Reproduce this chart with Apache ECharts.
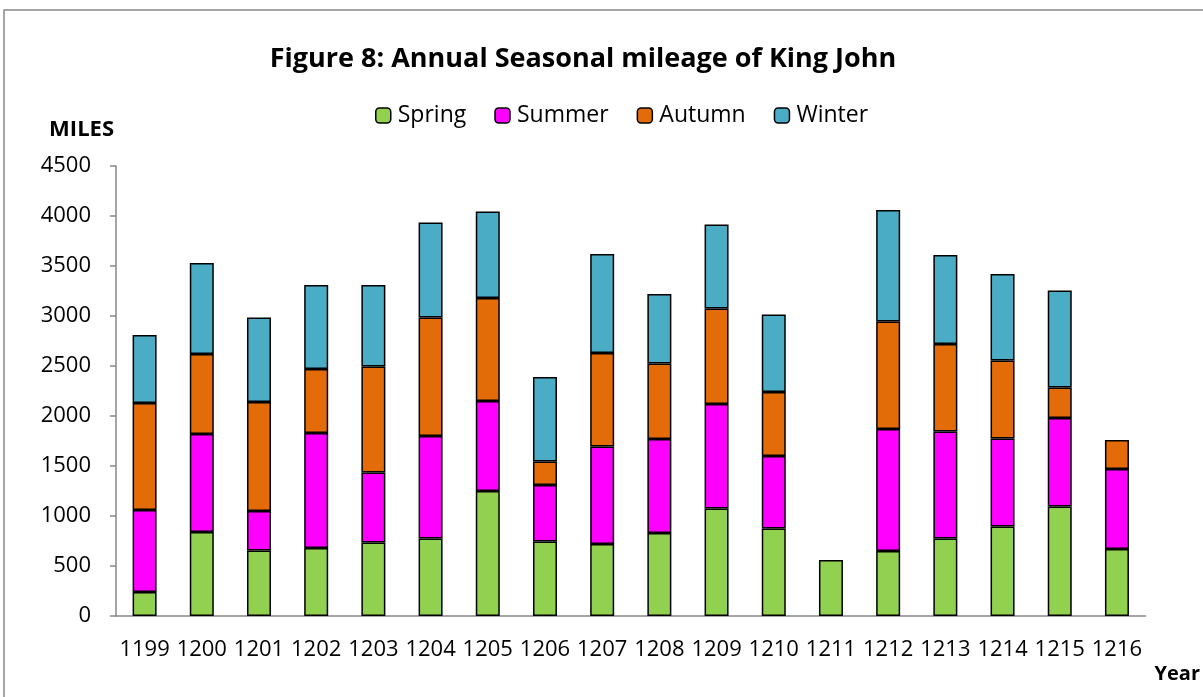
<!DOCTYPE html>
<html>
<head>
<meta charset="utf-8">
<script src="https://cdn.jsdelivr.net/npm/echarts@6/dist/echarts.min.js"></script>
<style>
  html, body { margin: 0; padding: 0; background: #fff; }
  #chart { width: 1203px; height: 697px; }
</style>
</head>
<body>
<div id="chart"></div>
<script>
const years = ['1199', '1200', '1201', '1202', '1203', '1204', '1205', '1206', '1207',
  '1208', '1209', '1210', '1211', '1212', '1213', '1214', '1215', '1216']
const spring = [240, 840, 655, 680, 735, 775, 1250, 745, 720, 830, 1075, 875, 560, 650, 775, 895, 1095, 670]
const summer = [820, 980, 395, 1150, 700, 1025, 900, 565, 975, 940, 1045, 725, 0, 1220, 1070, 880, 885, 800]
const autumn = [1070, 800, 1090, 640, 1060, 1185, 1030, 235, 935, 755, 955, 640, 0, 1075, 875, 780, 305, 290]
const winter = [680, 910, 845, 840, 815, 950, 865, 845, 990, 695, 840, 775, 0, 1115, 890, 865, 970, 0]

const fontFamily = '"Open Sans", "Noto Sans", sans-serif'
const chart = echarts.init(document.getElementById('chart'))

function season(name, data, color) {
  return {
    name,
    type: 'bar',
    stack: 'miles',
    // empty seasons are left out so no border line gets drawn
    data: data.map(v => (v === 0 ? '-' : v)),
    barWidth: 24,
    itemStyle: {
      color,
      borderColor: '#000',
      borderWidth: 1.5
    }
  }
}

const option = {
  backgroundColor: '#fff',
  animation: false,
  textStyle: { fontFamily },
  title: {
    text: 'Figure 8: Annual Seasonal mileage of King John',
    left: 578,
    textAlign: 'center',
    top: 41,
    textStyle: { fontSize: 27, fontWeight: 'bold', color: '#000', fontFamily }
  },
  legend: {
    top: 99,
    left: 370,
    itemWidth: 15,
    itemHeight: 15,
    itemGap: 28,
    textStyle: { fontSize: 23, color: '#000', fontFamily, padding: [0, 0, 0, 2] },
    itemStyle: { borderColor: '#000', borderWidth: 1.5 },
    data: ['Spring', 'Summer', 'Autumn', 'Winter']
  },
  graphic: [
    {
      type: 'rect',
      shape: { x: 4, y: 10, width: 1400, height: 900 },
      style: { fill: 'none', stroke: '#888', lineWidth: 1.5 },
      silent: true
    }
  ],
  grid: {
    left: 116,
    right: 55,
    top: 166,
    bottom: 81
  },
  xAxis: {
    type: 'category',
    data: years,
    name: 'Year',
    nameLocation: 'end',
    nameGap: 9,
    nameTextStyle: {
      fontSize: 20,
      fontWeight: 'bold',
      color: '#000',
      align: 'left',
      verticalAlign: 'top',
      padding: [48, 0, 0, 0]
    },
    axisLine: { lineStyle: { color: '#888', width: 1.5 } },
    axisTick: { length: 7, lineStyle: { color: '#888', width: 1.5 } },
    axisLabel: { fontSize: 22, color: '#000', margin: 23, interval: 0 }
  },
  yAxis: {
    type: 'value',
    min: 0,
    max: 4500,
    interval: 500,
    name: 'MILES',
    nameLocation: 'end',
    nameGap: 36,
    nameTextStyle: {
      fontSize: 22,
      fontWeight: 'bold',
      color: '#000',
      align: 'right',
      verticalAlign: 'middle',
      padding: [0, 2, 0, 0]
    },
    splitLine: { show: false },
    axisLine: { show: true, lineStyle: { color: '#888', width: 1.5 } },
    axisTick: { show: true, length: 6, lineStyle: { color: '#888', width: 1.5 } },
    axisLabel: { fontSize: 22, color: '#000', margin: 25, formatter: v => String(v) }
  },
  series: [
    season('Spring', spring, '#92D050'),
    season('Summer', summer, '#FF00FF'),
    season('Autumn', autumn, '#E36C09'),
    season('Winter', winter, '#4BACC6')
  ]
}

chart.setOption(option)
</script>
</body>
</html>
